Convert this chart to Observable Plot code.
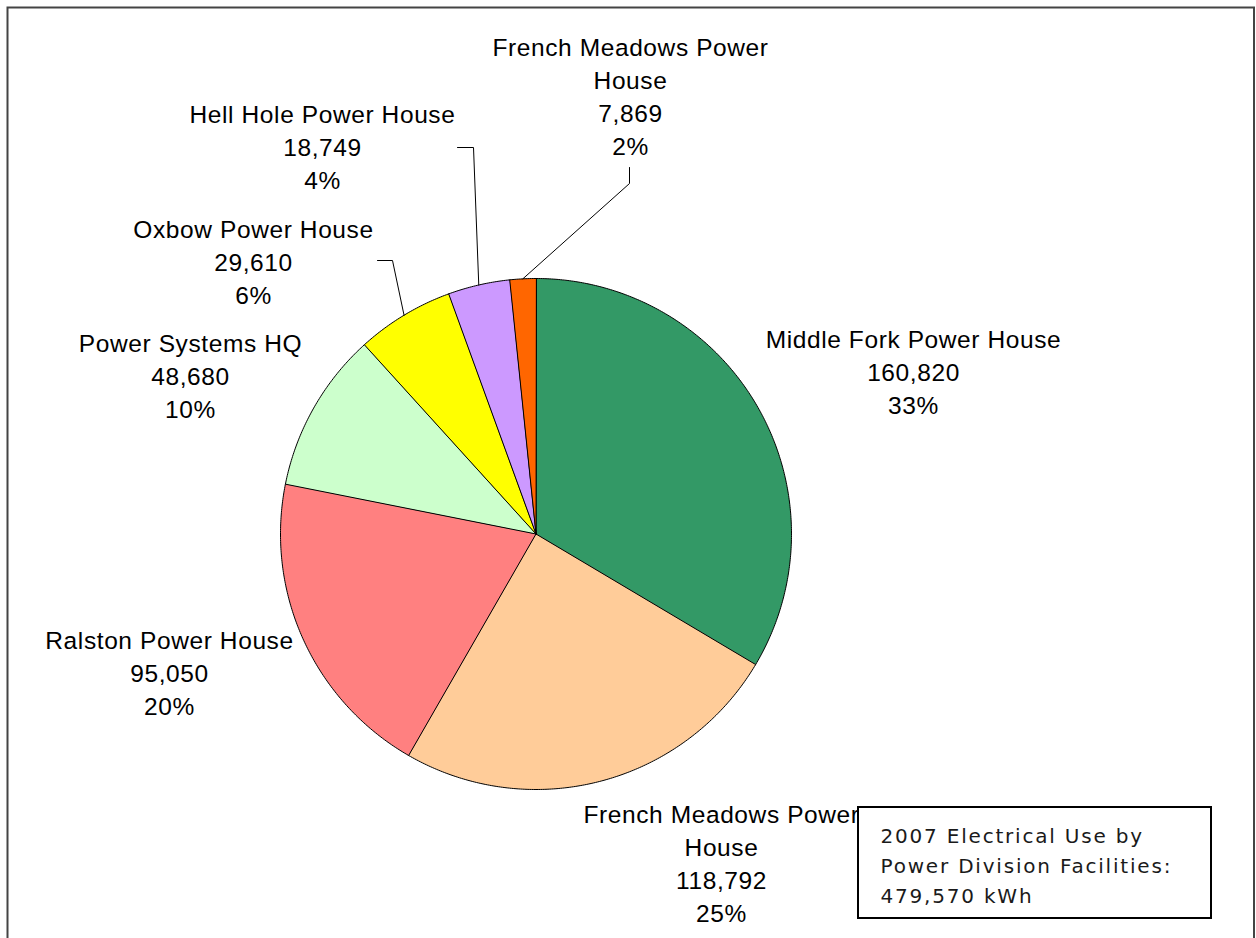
<!DOCTYPE html>
<html><head><meta charset="utf-8">
<script src="https://cdn.jsdelivr.net/npm/d3@7"></script>
<script src="https://cdn.jsdelivr.net/npm/@observablehq/plot@0.6"></script>
<style>body{margin:0;background:#fff}</style>
</head><body><div id="chart"></div>
<script>
// ---- data ----
const categories = ["Middle Fork Power House","French Meadows Power House","Ralston Power House","Power Systems HQ","Oxbow Power House","Hell Hole Power House","French Meadows Power House"];
const values = [160820,118792,95050,48680,29610,18749,7869];
const percentLabels = ["33%","25%","20%","10%","6%","4%","2%"];
const sliceColors = ["#339966","#FFCC99","#FF8080","#CCFFCC","#FFFF00","#CC99FF","#FF6600"];
const titleLines = ["2007 Electrical Use by","Power Division Facilities:"];
const unitLabel = "kWh";

// ---- layout (pixels) ----
const W = 1256, H = 938;
const cx = 535.5, cy = 533.5, R = 255.5;
const labelX = [913, 721, 169, 190, 253, 322, 630];
const labelY = [413, 921, 714, 417, 303, 188, 154];
const wrapName = [false, true, false, false, false, false, true];
const leaderSlices = [4, 5, 6];
const leaderElbow = [[392,260],[473,147],[629,183]];
const leaderEnd = [[377,260],[457,147],[629,167]];
const box = {x1: 858, x2: 1211, y1: 807, y2: 918, textX: 880, textY: 902};

// ---- geometry from data ----
const arcs = d3.pie().sort(null).value(d => d)(values);
const pt = (a, r) => [cx + r * Math.sin(a), cy - r * Math.cos(a)];
const slicePts = [];
arcs.forEach((a, i) => {
  slicePts.push({slice: i, x: cx, y: cy, color: sliceColors[i]});
  const n = Math.max(2, Math.ceil((a.endAngle - a.startAngle) / (Math.PI / 360)));
  for (let k = 0; k <= n; ++k) {
    const t = a.startAngle + (a.endAngle - a.startAngle) * k / n;
    const [x, y] = pt(t, R);
    slicePts.push({slice: i, x, y, color: sliceColors[i]});
  }
});

const leaderPts = [];
leaderSlices.forEach((s, j) => {
  const a = arcs[s];
  const [x0, y0] = pt((a.startAngle + a.endAngle) / 2, R);
  leaderPts.push({id: j, x: x0, y: y0});
  leaderPts.push({id: j, x: leaderElbow[j][0], y: leaderElbow[j][1]});
  leaderPts.push({id: j, x: leaderEnd[j][0], y: leaderEnd[j][1]});
});

const fmt = d3.format(",");
const labels = categories.map((c, i) => ({
  x: labelX[i], y: labelY[i],
  text: (wrapName[i] ? c.replace(/ House$/, "\nHouse") : c) + "\n" + fmt(values[i]) + "\n" + percentLabels[i]
}));
const titleText = titleLines.join("\n") + "\n" + fmt(d3.sum(values)) + " " + unitLabel;

const fs = 24.5;
const plot = Plot.plot({
  width: W, height: H,
  marginLeft: 7, marginTop: 7, marginRight: 2.5, marginBottom: -6,
  x: {domain: [0, W], range: [0, W], axis: null},
  y: {domain: [0, H], range: [0, H], axis: null},
  color: {type: "identity"},
  marks: [
    Plot.frame({stroke: "#444", strokeWidth: 2}),
    Plot.line(slicePts, {x: "x", y: "y", z: "slice", fill: "color", stroke: "black", strokeWidth: 1, curve: "linear-closed"}),
    Plot.line(leaderPts, {x: "x", y: "y", z: "id", stroke: "black", strokeWidth: 1}),
    Plot.text(labels, {x: "x", y: "y", text: "text", lineAnchor: "bottom", lineHeight: 33 / fs,
      fontSize: fs, fontFamily: "Liberation Sans, Arial, sans-serif", fill: "black"}),
    Plot.rect([box], {x1: "x1", x2: "x2", y1: "y1", y2: "y2", fill: "white", stroke: "black", strokeWidth: 2}),
    Plot.text([titleText], {x: box.textX, y: box.textY, text: d => d, textAnchor: "start", lineAnchor: "bottom",
      lineHeight: 30 / 20, fontSize: 20, fontFamily: "DejaVu Sans, sans-serif", fill: "#1a1a1a"})
  ]
});
plot.querySelectorAll("text").forEach(t => {
  const fam = (t.parentNode.getAttribute("font-family") || "");
  const ls = fam.includes("Liberation") ? 0.6 : 1.8;
  t.style.letterSpacing = ls + "px";
  t.setAttribute("letter-spacing", ls);
  t.querySelectorAll("tspan").forEach(s => { s.style.letterSpacing = ls + "px"; s.setAttribute("letter-spacing", ls); });
});
document.getElementById("chart").appendChild(plot);
</script>
</body></html>
